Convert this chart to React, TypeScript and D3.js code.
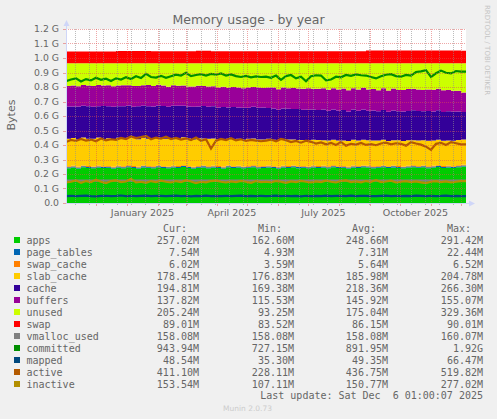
import React from "react";
import * as d3 from "d3";

// Memory usage by year: munin "memory" plugin, values in MiB (base 1024)
// one sample every 5 days

const apps = [
  246, 250, 244, 252, 248, 245, 251, 247, 249, 243,
  250, 246, 253, 248, 244, 251, 249, 246, 252, 247,
  245, 250, 248, 254, 247, 243, 249, 251, 246, 250,
  248, 244, 252, 247, 250, 245, 249, 253, 246, 248,
  251, 247, 244, 250, 248, 252, 246, 249, 245, 251,
  248, 250, 246, 253, 247, 249, 244, 251, 248, 252,
  250, 246, 249, 252, 247, 251, 248, 245, 250, 253,
  249, 252, 246, 250, 254, 248, 251, 247, 253, 257,
];
const pageTables = [
  7, 7, 7, 8, 7, 7, 7, 7, 7, 7,
  7, 7, 7, 7, 7, 8, 7, 7, 7, 7,
  7, 7, 7, 7, 7, 7, 7, 8, 7, 7,
  7, 7, 7, 7, 7, 7, 7, 7, 7, 8,
  7, 7, 7, 7, 7, 7, 8, 7, 7, 7,
  7, 7, 7, 7, 7, 7, 7, 7, 8, 7,
  7, 7, 7, 7, 7, 8, 7, 7, 7, 7,
  7, 7, 7, 7, 7, 7, 7, 8, 7, 8,
];
const swapCache = [
  6, 6, 6, 5, 6, 6, 6, 6, 6, 6,
  6, 6, 6, 6, 6, 5, 6, 6, 6, 6,
  6, 6, 6, 6, 6, 6, 6, 5, 6, 6,
  6, 6, 6, 6, 6, 6, 6, 6, 6, 5,
  6, 6, 6, 6, 6, 6, 5, 6, 6, 6,
  6, 6, 6, 6, 6, 6, 6, 6, 5, 6,
  6, 6, 6, 6, 6, 5, 6, 6, 6, 6,
  6, 6, 6, 6, 6, 6, 6, 5, 6, 5,
];
const slabCache = [
  194, 196, 192, 197, 193, 195, 198, 192, 196, 194,
  197, 193, 195, 199, 194, 196, 192, 198, 195, 193,
  196, 194, 192, 197, 195, 193, 196, 191, 194, 192,
  190, 193, 189, 192, 190, 188, 191, 189, 190, 187,
  189, 186, 188, 185, 187, 184, 186, 183, 185, 182,
  184, 181, 183, 180, 182, 179, 181, 183, 180, 182,
  180, 182, 179, 181, 178, 180, 182, 179, 181, 178,
  180, 179, 181, 178, 180, 179, 177, 180, 179, 178,
];
const cache = [
  228, 222, 232, 224, 230, 226, 221, 233, 225, 229,
  224, 231, 227, 220, 233, 226, 230, 224, 228, 232,
  225, 229, 234, 222, 227, 231, 224, 230, 226, 228,
  224, 228, 221, 226, 222, 227, 220, 225, 223, 226,
  218, 222, 215, 220, 217, 214, 219, 213, 218, 215,
  212, 216, 210, 214, 211, 215, 209, 213, 210, 214,
  208, 212, 207, 211, 206, 210, 205, 209, 206, 211,
  207, 204, 209, 205, 208, 203, 207, 205, 202, 195,
];
const buffers = [
  146, 149, 143, 148, 145, 147, 150, 144, 148, 146,
  145, 148, 144, 147, 143, 146, 149, 145, 147, 144,
  142, 145, 141, 144, 140, 143, 146, 141, 144, 142,
  140, 143, 139, 142, 141, 138, 142, 140, 143, 139,
  145, 148, 144, 147, 146, 149, 145, 148, 150, 146,
  149, 151, 147, 150, 148, 152, 149, 151, 150, 153,
  150, 152, 149, 153, 151, 154, 150, 152, 155, 151,
  153, 150, 152, 154, 151, 153, 150, 148, 145, 138,
];
const unused = [
  160, 157, 163, 153, 158, 161, 154, 158, 156, 162,
  158, 156, 155, 160, 160, 155, 154, 161, 152, 158,
  166, 156, 159, 157, 165, 164, 159, 161, 164, 162,
  172, 166, 173, 167, 171, 176, 172, 167, 172, 174,
  171, 171, 183, 172, 176, 175, 178, 181, 176, 180,
  181, 176, 188, 177, 186, 179, 191, 176, 186, 173,
  186, 182, 190, 177, 192, 179, 189, 189, 182, 181,
  185, 189, 186, 187, 181, 191, 189, 194, 195, 206,
];
const swap = [
  83.5, 83.5, 83.5, 83.5, 83.5, 83.5, 83.5, 83.5, 83.5, 83.5,
  86.5, 86.5, 86.5, 86.5, 86.5, 86.5, 86.5, 84.5, 84.5, 84.5,
  84.5, 84.5, 84.5, 84.5, 84.5, 84.5, 87.5, 87.5, 87.5, 85.5,
  85.5, 85.5, 85.5, 85.5, 85.5, 85.5, 85.5, 85.5, 85.5, 85.5,
  85.5, 85.5, 85.5, 85.5, 85.5, 85.5, 85.5, 85.5, 85.5, 85.5,
  85.5, 85.5, 85.5, 85.5, 85.5, 85.5, 85.5, 85.5, 85.5, 85.5,
  89.5, 89.5, 89.5, 89.5, 89.5, 89.5, 89.5, 89.5, 89.5, 89.5,
  89.5, 89.5, 89.5, 89.5, 89.5, 89.5, 89.5, 89.5, 89.5, 89,
];
const vmallocUsed = [
  158, 158, 158, 158, 158, 158, 158, 158, 158, 158,
  158, 158, 158, 158, 158, 158, 158, 158, 158, 158,
  158, 158, 158, 158, 158, 158, 158, 158, 158, 158,
  158, 158, 158, 158, 158, 158, 158, 158, 158, 158,
  158, 158, 158, 158, 158, 158, 158, 158, 158, 158,
  158, 158, 158, 158, 158, 158, 158, 158, 158, 158,
  158, 158, 158, 158, 158, 158, 158, 158, 158, 158,
  158, 158, 158, 158, 158, 158, 158, 158, 158, 158,
];
const committed = [
  860, 872, 880, 858, 875, 866, 884, 870, 878, 862,
  880, 872, 888, 876, 895, 882, 912, 890, 886, 898,
  884, 895, 906, 900, 920, 896, 904, 910, 900, 912,
  906, 915, 900, 908, 896, 890, 898, 888, 894, 890,
  892, 884, 900, 870, 896, 904, 880, 892, 860, 895,
  902, 900, 866, 872, 892, 888, 904, 898, 908, 902,
  900, 890, 880, 895, 906, 910, 896, 892, 905, 900,
  925, 930, 938, 890, 916, 935, 920, 915, 932, 928,
];
const mapped = [
  49, 51, 48, 50, 52, 49, 47, 50, 51, 48,
  50, 53, 49, 51, 48, 50, 52, 49, 51, 50,
  48, 50, 52, 49, 51, 47, 50, 49, 52, 48,
  50, 49, 51, 48, 50, 52, 49, 50, 48, 51,
  49, 50, 52, 48, 51, 49, 50, 47, 51, 49,
  50, 48, 52, 49, 51, 50, 48, 52, 49, 50,
  51, 49, 48, 50, 52, 49, 51, 48, 50, 49,
  52, 50, 48, 51, 49, 50, 52, 48, 50, 49,
];
const active = [
  430, 445, 438, 452, 440, 448, 436, 455, 442, 450,
  446, 460, 452, 470, 458, 465, 474, 450, 462, 455,
  468, 452, 460, 448, 456, 445, 462, 440, 450, 385,
  440, 452, 445, 458, 442, 450, 438, 446, 440, 436,
  440, 448, 436, 452, 444, 430, 438, 426, 440, 432,
  420, 428, 415, 425, 410, 430, 405, 418, 412, 424,
  410, 416, 408, 420, 426, 414, 422, 418, 405, 430,
  420, 412, 398, 375, 418, 425, 410, 430, 422, 414,
];
const inactive = [
  145, 150, 160, 142, 155, 148, 165, 150, 140, 155,
  160, 148, 152, 170, 145, 150, 142, 155, 148, 158,
  150, 145, 155, 148, 160, 152, 140, 150, 146, 155,
  158, 150, 145, 152, 148, 156, 150, 142, 155, 148,
  150, 146, 155, 150, 142, 152, 148, 156, 150, 145,
  152, 148, 158, 150, 145, 155, 160, 148, 152, 146,
  155, 150, 162, 148, 152, 158, 145, 150, 155, 148,
  152, 146, 140, 150, 155, 148, 152, 145, 150, 154,
];

const legendNames = ["apps", "page_tables", "swap_cache", "slab_cache", "cache", "buffers", "unused", "swap", "vmalloc_used", "committed", "mapped", "active", "inactive"];
const legendColors = ["#00CC00", "#0066B3", "#FF8000", "#FFCC00", "#330099", "#990099", "#CCFF00", "#FF0000", "#808080", "#008F00", "#00487D", "#B35A00", "#B38F00"];
const curValues = ["257.02M", "7.54M", "6.02M", "178.45M", "194.81M", "137.82M", "205.24M", "89.01M", "158.08M", "943.94M", "48.54M", "411.10M", "153.54M"];
const minValues = ["162.60M", "4.93M", "3.59M", "176.83M", "169.38M", "115.53M", "93.25M", "83.52M", "158.08M", "727.15M", "35.30M", "228.11M", "107.11M"];
const avgValues = ["248.66M", "7.31M", "5.64M", "185.98M", "218.36M", "145.92M", "175.04M", "86.15M", "158.08M", "891.95M", "49.35M", "436.75M", "150.77M"];
const maxValues = ["291.42M", "22.44M", "6.52M", "204.78M", "266.30M", "155.07M", "329.36M", "90.01M", "160.07M", "1.92G", "66.47M", "519.82M", "277.02M"];

const yTickLabels = ["0.0", "0.1 G", "0.2 G", "0.3 G", "0.4 G", "0.5 G", "0.6 G", "0.7 G", "0.8 G", "0.9 G", "1.0 G", "1.1 G", "1.2 G"];
const xTickLabels = ["January 2025", "April 2025", "July 2025", "October 2025"];
const xTickMonths = [new Date(2025, 0, 1), new Date(2025, 3, 1), new Date(2025, 6, 1), new Date(2025, 9, 1)];

const areaKeys = ["apps", "page_tables", "swap_cache", "slab_cache", "cache", "buffers", "unused", "swap"];
const lineKeys = ["vmalloc_used", "committed", "mapped", "active", "inactive"];

const W = 497;
const H = 419;
const plotLeft = 66;
const plotRight = 466;
const plotTop = 29;
const plotBottom = 203;

const FONT = "#666666";
const AXIS = "#CFD6F8";
const GRID = "rgba(143,143,143,0.6)";
const MGRID = "rgba(222,79,79,0.5)";

const endTime = new Date(2025, 11, 6, 1, 0, 7);
const startTime = d3.timeDay.offset(endTime, -400);

type Row = { t: Date; [k: string]: any };

const columns: Record<string, number[]> = {
  apps, page_tables: pageTables, swap_cache: swapCache, slab_cache: slabCache,
  cache, buffers, unused, swap,
  vmalloc_used: vmallocUsed, committed, mapped, active, inactive,
};

const N = apps.length;
const rows: Row[] = d3.range(N + 1).map((i) => {
  const j = Math.min(i, N - 1);
  const r: Row = { t: i < N ? d3.timeDay.offset(startTime, 5 * i) : endTime };
  Object.keys(columns).forEach((k) => (r[k] = columns[k][j]));
  return r;
});

export default function App() {
  const x = d3.scaleTime().domain([startTime, endTime]).range([plotLeft, plotRight]);
  const y = d3.scaleLinear().domain([0, 1.2 * 1024]).range([plotBottom, plotTop]);

  const stacked = d3.stack<Row>().keys(areaKeys)(rows);
  const area = d3
    .area<any>()
    .x((d) => x(d.data.t))
    .y0((d) => y(d[0]))
    .y1((d) => y(d[1]))
    .curve(d3.curveStepAfter);

  const majorX = d3.timeMonth.range(d3.timeMonth.ceil(startTime), endTime);
  const minorX = d3.range(0, 30).map((k) => d3.timeDay.offset(new Date(2024, 10, 10), 14 * k)).filter((d) => d < endTime);
  const yVals = yTickLabels.map((_, k) => k * 102.4);

  const mono = "'DejaVu Sans Mono', monospace";
  const sans = "'DejaVu Sans', sans-serif";
  const headerCols = [
    { label: "Cur:", x: 163 },
    { label: "Min:", x: 258 },
    { label: "Avg:", x: 352 },
    { label: "Max:", x: 447 },
  ];
  const valueCols = [
    { vals: curValues, x: 199 },
    { vals: minValues, x: 294 },
    { vals: avgValues, x: 388 },
    { vals: maxValues, x: 483 },
  ];

  return (
    <div style={{ position: "fixed", left: 0, top: 0 }}>
      <svg width={W} height={H} style={{ display: "block" }}>
        <rect width={W} height={H} fill="#F0F0F0" />
        <rect x={plotLeft} y={plotTop} width={plotRight - plotLeft} height={plotBottom - plotTop} fill="#FFFFFF" />

        <defs>
          <clipPath id="plot">
            <rect x={plotLeft} y={plotTop - 2} width={plotRight - plotLeft} height={plotBottom - plotTop + 2} />
          </clipPath>
        </defs>

        <g clipPath="url(#plot)">
          {stacked.map((s, i) => (
            <path key={s.key} d={area(s as any) || ""} fill={legendColors[i]} />
          ))}
          {lineKeys.map((k) => {
            const line = d3
              .line<Row>()
              .x((d) => x(d.t))
              .y((d) => y(d[k]))
              .curve(d3.curveLinear);
            return <path key={k} d={line(rows) || ""} fill="none" stroke={legendColors[legendNames.indexOf(k)]} strokeWidth={2.2} strokeLinejoin="miter" />;
          })}
        </g>

        {/* grid */}
        <g strokeDasharray="1,1" strokeWidth={1}>
          {minorX.map((d, i) => (
            <line key={"mi" + i} x1={Math.round(x(d)) + 0.5} x2={Math.round(x(d)) + 0.5} y1={plotTop} y2={plotBottom} stroke={GRID} />
          ))}
          {majorX.map((d, i) => (
            <line key={"ma" + i} x1={Math.round(x(d)) + 0.5} x2={Math.round(x(d)) + 0.5} y1={plotTop} y2={plotBottom} stroke={MGRID} />
          ))}
          {yVals.slice(1).map((v, i) => (
            <line key={"h" + i} x1={plotLeft} x2={plotRight} y1={Math.round(y(v)) + 0.5} y2={Math.round(y(v)) + 0.5} stroke={MGRID} />
          ))}
        </g>

        {/* axis ticks */}
        {minorX.map((d, i) => (
          <line key={"tmi" + i} x1={Math.round(x(d)) + 0.5} x2={Math.round(x(d)) + 0.5} y1={plotBottom} y2={plotBottom + 2} stroke={GRID} />
        ))}
        {majorX.map((d, i) => (
          <line key={"tma" + i} x1={Math.round(x(d)) + 0.5} x2={Math.round(x(d)) + 0.5} y1={plotBottom} y2={plotBottom + 3} stroke={MGRID} />
        ))}
        {yVals.map((v, i) => (
          <line key={"ty" + i} x1={plotLeft - 3} x2={plotLeft} y1={Math.round(y(v)) + 0.5} y2={Math.round(y(v)) + 0.5} stroke={MGRID} />
        ))}

        {/* axes with arrows */}
        <line x1={plotLeft + 0.5} x2={plotLeft + 0.5} y1={plotBottom + 1} y2={plotTop - 5} stroke={AXIS} />
        <line x1={plotLeft} x2={plotRight + 4} y1={plotBottom + 0.5} y2={plotBottom + 0.5} stroke={AXIS} />
        <path d={`M${plotLeft - 2.5},${plotTop - 3} L${plotLeft + 0.5},${plotTop - 9} L${plotLeft + 3.5},${plotTop - 3} Z`} fill={AXIS} />
        <path d={`M${plotRight + 3},${plotBottom - 2.5} L${plotRight + 9},${plotBottom + 0.5} L${plotRight + 3},${plotBottom + 3.5} Z`} fill={AXIS} />

        {/* y labels */}
        {yTickLabels.map((lab, i) => (
          <text key={lab} x={59} y={y(yVals[i]) + 3.3} textAnchor="end" fontFamily={sans} fontSize={9.3} fill={FONT}>
            {lab}
          </text>
        ))}
        {/* x labels, centred on the month */}
        {xTickLabels.map((lab, i) => {
          const m = xTickMonths[i];
          const cx = (x(m) + x(d3.timeMonth.offset(m, 1))) / 2;
          return (
            <text key={lab} x={cx} y={216} textAnchor="middle" fontFamily={sans} fontSize={9.5} fill={FONT}>
              {lab}
            </text>
          );
        })}

        <text x={248.5} y={24} textAnchor="middle" fontFamily={sans} fontSize={12.5} fill={FONT}>
          Memory usage - by year
        </text>
        <text transform="translate(15,115) rotate(-90)" textAnchor="middle" fontFamily={sans} fontSize={11} fill={FONT}>
          Bytes
        </text>
        <text transform="translate(485,5) rotate(90)" fontFamily={sans} fontSize={7} fill="#C4C4C4">
          RRDTOOL / TOBI OETIKER
        </text>

        {/* legend */}
        {headerCols.map((h) => (
          <text key={h.label} x={h.x} y={231.5} fontFamily={mono} fontSize={10} fill={FONT}>
            {h.label}
          </text>
        ))}
        {legendNames.map((name, i) => {
          const cy = 240 + 12 * i;
          return (
            <g key={name}>
              <rect x={14} y={cy - 3} width={6} height={6} fill={legendColors[i]} />
              <text x={26.5} y={cy + 3.5} fontFamily={mono} fontSize={10} fill={FONT}>
                {name}
              </text>
              {valueCols.map((c, k) => (
                <text key={k} x={c.x} y={cy + 3.5} textAnchor="end" fontFamily={mono} fontSize={10} fill={FONT}>
                  {c.vals[i]}
                </text>
              ))}
            </g>
          );
        })}
        <text x={483} y={398.8} textAnchor="end" fontFamily={mono} fontSize={10} fill={FONT} style={{ whiteSpace: "pre" }}>
          {"Last update: Sat Dec  6 01:00:07 2025"}
        </text>
        <text x={247.5} y={410.5} textAnchor="middle" fontFamily={sans} fontSize={7.5} fill="#CCCCCC">
          Munin 2.0.73
        </text>
      </svg>
    </div>
  );
}
